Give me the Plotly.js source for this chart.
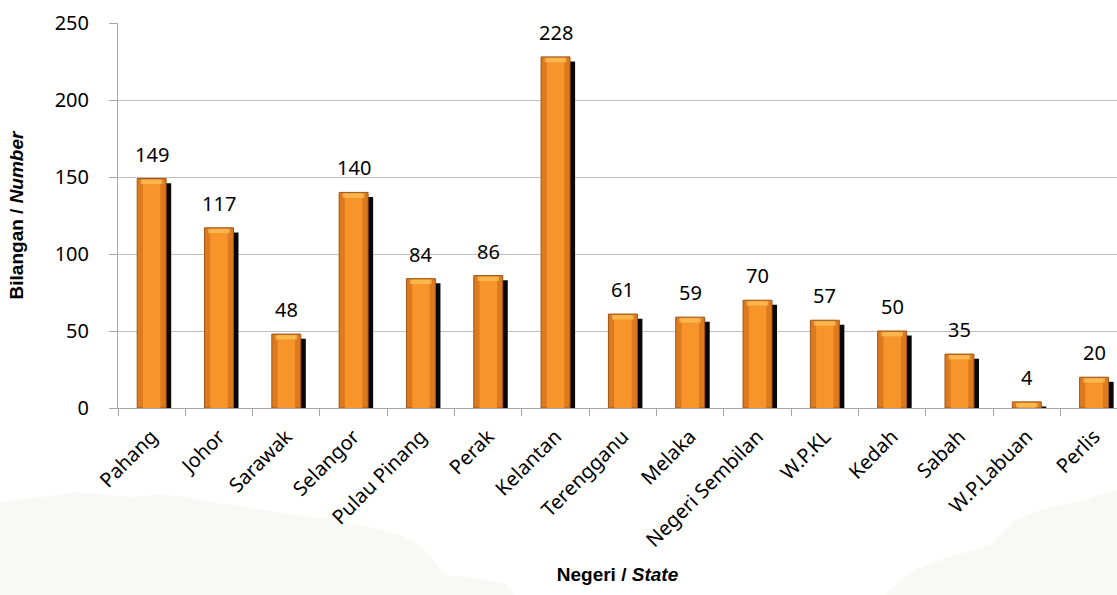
<!DOCTYPE html>
<html>
<head>
<meta charset="utf-8">
<script src="https://cdn.plot.ly/plotly-3.0.1.min.js"></script>
<style>html,body{margin:0;padding:0;background:#fff;}#chart{width:1117px;height:595px;}</style>
</head>
<body>
<div id="chart"></div>
<script>
const states = ["Pahang","Johor","Sarawak","Selangor","Pulau Pinang","Perak","Kelantan","Terengganu","Melaka","Negeri Sembilan","W.P.KL","Kedah","Sabah","W.P.Labuan","Perlis"];
const counts = [149,117,48,140,84,86,228,61,59,70,57,50,35,4,20];
const yTicks = [0,50,100,150,200,250];

const shadowDrop = 3;
const capDepth = 3.5;
const shadow = {
  type: "bar", x: states, y: counts.map(v => Math.max(v - shadowDrop, 0)),
  width: 0.43, offset: -0.14,
  marker: {color: "#080808"}, hoverinfo: "skip", showlegend: false
};
const bars = {
  type: "bar", x: states, y: counts,
  width: 0.43, offset: -0.215,
  marker: {color: "#DE7A1E", line: {color: "#9E5418", width: 1}},
  showlegend: false
};
const inner = {
  type: "bar", x: states, y: counts.map(v => Math.max(v - 0.6, 0)),
  width: 0.26, offset: -0.13,
  marker: {color: "#F7942A", line: {width: 0}},
  hoverinfo: "skip", showlegend: false
};
const cap = {
  type: "bar", x: states,
  base: counts.map(v => Math.max(v - capDepth, 0)),
  y: counts.map(v => Math.min(capDepth - 0.7, v - 0.7)),
  width: 0.32, offset: -0.16,
  marker: {color: "#F9C65E", opacity: 0.7, line: {width: 0}},
  hoverinfo: "skip", showlegend: false
};

const annotations = states.map((s, i) => ({
  x: s, y: counts[i], xref: "x", yref: "y", text: String(counts[i]),
  showarrow: false, yanchor: "bottom", yshift: 9,
  font: {family: "Noto Sans, Open Sans, sans-serif", size: 20, color: "#000"}
}));

// decorative faint landscape silhouette (pixel -> paper)
const L = 118, T = 23, W = 999, H = 385;
const px = x => (x - L) / W, py = y => (T + H - y) / H;
function pathFrom(pts) {
  return pts.map((p, i) => (i ? "L" : "M") + px(p[0]).toFixed(4) + "," + py(p[1]).toFixed(4)).join(" ") + " Z";
}
const leftHill = [[-5,600],[-5,503],[40,497],[75,492],[105,494],[130,497],[165,494],[200,500],[250,508],[290,514],[330,520],[370,527],[400,535],[420,545],[432,558],[445,575],[480,579],[505,583],[520,600]];
const rightHill = [[880,600],[895,585],[915,570],[940,560],[965,552],[990,545],[1005,530],[1015,520],[1040,510],[1060,505],[1085,500],[1100,494],[1125,488],[1125,600]];

const layout = {
  width: 1117, height: 595,
  margin: {l: L, r: 0, t: T, b: 187},
  paper_bgcolor: "#fff", plot_bgcolor: "rgba(0,0,0,0)",
  barmode: "overlay",
  shapes: [
    {type: "path", xref: "paper", yref: "paper", path: pathFrom(leftHill), fillcolor: "#f8f9f6", line: {width: 0}, layer: "below"},
    {type: "path", xref: "paper", yref: "paper", path: pathFrom(rightHill), fillcolor: "#f8f9f6", line: {width: 0}, layer: "below"}
  ],
  xaxis: {
    type: "category", range: [-0.5, 14.34],
    tickangle: -45, tickson: "boundaries",
    ticks: "outside", ticklen: 7, tickcolor: "#a6a6a6",
    showline: true, linecolor: "#a6a6a6", linewidth: 1,
    showgrid: false, ticklabelstandoff: 8,
    tickfont: {family: "Noto Sans, Open Sans, sans-serif", size: 20, color: "#000"},
    title: {text: "<b>Negeri / <i>State</i></b>", standoff: 16,
      font: {family: "Liberation Sans, Arial, sans-serif", size: 19, color: "#000"}}
  },
  yaxis: {
    range: [0, 250], tickvals: yTicks,
    ticks: "outside", ticklen: 8, tickcolor: "#a6a6a6",
    showline: true, linecolor: "#a6a6a6", linewidth: 1,
    gridcolor: "#bfbfbf", gridwidth: 1, zeroline: false,
    ticklabelstandoff: 16,
    tickfont: {family: "Noto Sans, Open Sans, sans-serif", size: 20, color: "#000"},
    title: {text: "<b>Bilangan / <i>Number</i></b>", standoff: 26,
      font: {family: "Liberation Sans, Arial, sans-serif", size: 19, color: "#000"}}
  },
  annotations: annotations
};

Plotly.newPlot("chart", [shadow, bars, inner, cap], layout, {displayModeBar: false, staticPlot: true});
</script>
</body>
</html>
